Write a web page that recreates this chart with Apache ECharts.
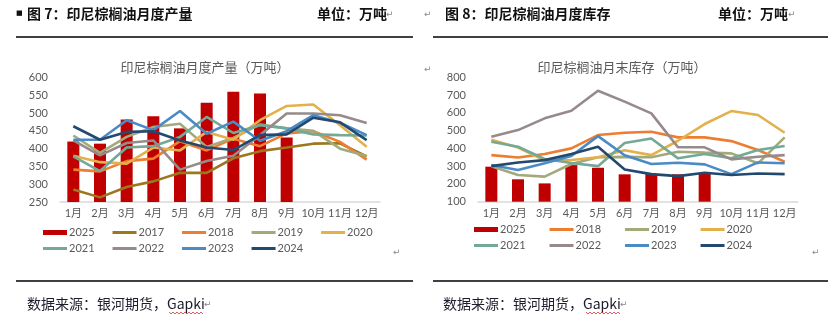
<!DOCTYPE html>
<html>
<head>
<meta charset="utf-8">
<script src="https://cdn.jsdelivr.net/npm/echarts@6/dist/echarts.min.js"></script>
<style>
  html, body { margin: 0; padding: 0; background: #fff; }
  #chart { width: 831px; height: 323px; }
</style>
</head>
<body>
<div id="chart"></div>
<script>
// Month categories shared by both panels
const MONTHS = ['1月', '2月', '3月', '4月', '5月', '6月', '7月', '8月', '9月', '10月', '11月', '12月'];

// Indonesia palm oil monthly production (10k tonnes)
const prod2025 = [420, 414, 482, 491, 457, 529, 560, 555, 431];
const prod2017 = [285, 263, 292, 308, 332, 332, 373, 393, 403, 414, 415, 378];
const prod2018 = [341, 336, 365, 372, 421, 395, 428, 407, 443, 449, 419, 369];
const prod2019 = [437, 388, 433, 461, 470, 405, 430, 468, 457, 450, 400, 379];
const prod2020 = [380, 362, 358, 403, 395, 447, 425, 480, 520, 524, 466, 405];
const prod2021 = [378, 337, 403, 407, 433, 489, 444, 466, 457, 440, 438, 437];
const prod2022 = [423, 381, 416, 423, 341, 365, 380, 438, 499, 499, 494, 472];
const prod2023 = [425, 425, 480, 452, 506, 442, 476, 422, 449, 494, 473, 438];
const prod2024 = [463, 425, 447, 449, 423, 403, 396, 438, 440, 487, 474, 424];

// Indonesia palm oil month-end stocks (10k tonnes)
const inv2025 = [297, 226, 203, 306, 291, 254, 256, 254, 256];
const inv2018 = [362, 349, 368, 400, 475, 488, 494, 462, 462, 441, 391, 325];
const inv2019 = [300, 250, 241, 312, 350, 352, 350, 381, 376, 372, 316, 462];
const inv2020 = [448, 405, 333, 335, 350, 390, 362, 443, 537, 610, 588, 488];
const inv2021 = [437, 409, 340, 318, 300, 430, 456, 344, 368, 344, 391, 413];
const inv2022 = [466, 503, 569, 612, 724, 663, 597, 406, 406, 338, 353, 362];
const inv2023 = [306, 278, 316, 357, 469, 361, 312, 319, 310, 255, 321, 316];
const inv2024 = [300, 321, 334, 368, 409, 281, 255, 244, 263, 250, 259, 255];

// Axis tick settings
const prodTicks = { min: 250, max: 600, interval: 50 };
const invTicks = { min: 100, max: 800, interval: 100 };

const COLORS = {
  '2025': '#C00000',
  '2017': '#9C7720',
  '2018': '#ED7D31',
  '2019': '#A2AA7C',
  '2020': '#E3B04C',
  '2021': '#74A897',
  '2022': '#968A8A',
  '2023': '#4A8BC6',
  '2024': '#24496E'
};

const GRAY = '#595959';
const FONT = "Lato, 'Noto Sans CJK SC', sans-serif";
const CJK = "'Noto Sans CJK SC', sans-serif";
const LINE_ICON = 'path://M0,0H24V3H0Z';

function lineSeries(name, data, idx) {
  return {
    name: name, type: 'line', data: data,
    xAxisIndex: idx, yAxisIndex: idx,
    symbol: 'none', smooth: false, z: 3,
    lineStyle: { width: 2.6, color: COLORS[name] },
    itemStyle: { color: COLORS[name] }
  };
}
function barSeries(name, data, idx) {
  return {
    name: name, type: 'bar', data: data,
    xAxisIndex: idx, yAxisIndex: idx,
    barWidth: 12, z: 2,
    itemStyle: { color: COLORS[name] }
  };
}
// One legend row; the gap sets the column pitch
function legendRow(names, left, top, gap) {
  return {
    data: names.map(n => ({ name: n, icon: n === '2025' ? 'rect' : LINE_ICON })),
    left: left, top: top, orient: 'horizontal',
    itemWidth: 24, itemHeight: 5, itemGap: gap, padding: 0,
    selectedMode: false,
    textStyle: { color: GRAY, fontSize: 11, fontFamily: FONT, padding: [0, 0, 0, -3] }
  };
}
function xAxisCfg(idx) {
  return {
    type: 'category', gridIndex: idx, data: MONTHS,
    axisLine: { lineStyle: { color: '#D9D9D9', width: 1.5 } },
    axisTick: { show: false },
    axisLabel: { color: GRAY, fontSize: 11, fontFamily: FONT, margin: 6, interval: 0 }
  };
}
function yAxisCfg(idx, t) {
  return {
    type: 'value', gridIndex: idx, min: t.min, max: t.max, interval: t.interval,
    axisLine: { show: false }, axisTick: { show: false },
    splitLine: { show: false },
    axisLabel: { color: GRAY, fontSize: 11, fontFamily: FONT, margin: 12 }
  };
}

// Wavy spell-check underline points under "Gapki"
function wavy(x0, x1, y) {
  const pts = [];
  let up = true;
  for (let x = x0; x <= x1; x += 2) { pts.push([x, up ? y - 1 : y + 1]); up = !up; }
  return pts;
}

function txt(text, x, y, size, opts) {
  opts = opts || {};
  return {
    type: 'text', silent: true,
    style: {
      text: text, x: x, y: y,
      fontSize: size, fontFamily: opts.family || CJK,
      fontWeight: opts.weight || 'normal',
      fill: opts.color || '#111',
      align: opts.align || 'left', verticalAlign: 'middle'
    }
  };
}
function hline(x1, x2, y) {
  return { type: 'line', silent: true, shape: { x1: x1, y1: y, x2: x2, y2: y }, style: { stroke: '#000', lineWidth: 1.3 } };
}

const chart = echarts.init(document.getElementById('chart'), null, { renderer: 'canvas' });

chart.setOption({
  animation: false,
  backgroundColor: '#fff',
  grid: [
    { left: 60, top: 77.5, width: 320, height: 124.5 },
    { left: 478, top: 77.3, width: 320, height: 124.4 }
  ],
  xAxis: [xAxisCfg(0), xAxisCfg(1)],
  yAxis: [yAxisCfg(0, prodTicks), yAxisCfg(1, invTicks)],
  legend: [
    legendRow(['2025', '2017', '2018', '2019', '2020'], 43, 227, 18),
    legendRow(['2021', '2022', '2023', '2024'], 43, 243, 18),
    legendRow(['2025', '2018', '2019', '2020'], 474, 224, 24),
    legendRow(['2021', '2022', '2023', '2024'], 474, 240, 24)
  ],
  series: [
    barSeries('2025', prod2025, 0),
    lineSeries('2017', prod2017, 0),
    lineSeries('2018', prod2018, 0),
    lineSeries('2019', prod2019, 0),
    lineSeries('2020', prod2020, 0),
    lineSeries('2021', prod2021, 0),
    lineSeries('2022', prod2022, 0),
    lineSeries('2023', prod2023, 0),
    lineSeries('2024', prod2024, 0),
    barSeries('2025', inv2025, 1),
    lineSeries('2018', inv2018, 1),
    lineSeries('2019', inv2019, 1),
    lineSeries('2020', inv2020, 1),
    lineSeries('2021', inv2021, 1),
    lineSeries('2022', inv2022, 1),
    lineSeries('2023', inv2023, 1),
    lineSeries('2024', inv2024, 1)
  ],
  graphic: [
    // page headers
    txt('■', 16, 13, 7, { family: 'DejaVu Sans' }),
    txt('图 7：印尼棕榈油月度产量', 27, 14, 14, { weight: 'bold' }),
    txt('单位：万吨', 317, 14, 14, { weight: 'bold' }),
    txt('↵', 386, 15, 9, { family: 'DejaVu Sans', color: '#888' }),
    hline(16, 413, 37),
    txt('↵', 424, 15, 9, { family: 'DejaVu Sans', color: '#888' }),
    txt('图 8：印尼棕榈油月度库存', 445, 14, 14, { weight: 'bold' }),
    txt('单位：万吨', 718, 14, 14, { weight: 'bold' }),
    txt('↵', 788, 15, 9, { family: 'DejaVu Sans', color: '#888' }),
    hline(433, 828, 37),
    // chart titles
    txt('印尼棕榈油月度产量（万吨）', 205, 67, 13, { color: GRAY, align: 'center' }),
    txt('印尼棕榈油月末库存（万吨）', 622, 67, 13, { color: GRAY, align: 'center' }),
    txt('↵', 424, 70, 9, { family: 'DejaVu Sans', color: '#888' }),
    txt('↵', 393, 253, 9, { family: 'DejaVu Sans', color: '#888' }),
    txt('↵', 812, 253, 9, { family: 'DejaVu Sans', color: '#888' }),
    // footers
    hline(16, 413, 281),
    hline(433, 828, 281),
    txt('数据来源：银河期货，Gapki', 27, 304, 14, { color: '#1c1c2c' }),
    txt('↵', 204, 305, 9, { family: 'DejaVu Sans', color: '#888' }),
    txt('数据来源：银河期货，Gapki', 443, 304, 14, { color: '#1c1c2c' }),
    txt('↵', 620, 305, 9, { family: 'DejaVu Sans', color: '#888' }),
    { type: 'polyline', silent: true, shape: { points: wavy(169, 203, 313) }, style: { stroke: '#E03030', lineWidth: 0.8, fill: null } },
    { type: 'polyline', silent: true, shape: { points: wavy(586, 620, 313) }, style: { stroke: '#E03030', lineWidth: 0.8, fill: null } }
  ]
});
</script>
</body>
</html>
